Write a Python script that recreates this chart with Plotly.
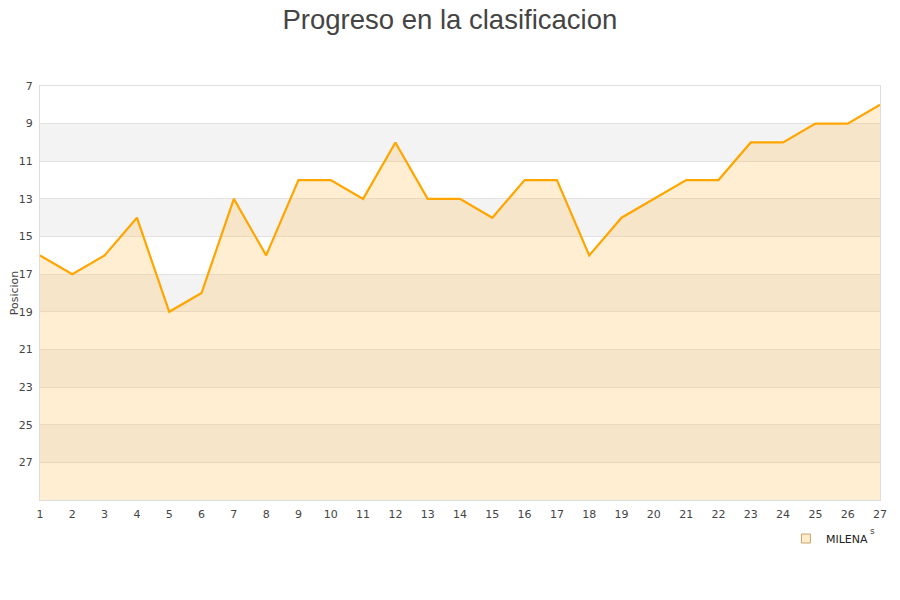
import plotly.graph_objects as go

jornadas = list(range(1, 28))
posicion = [16, 17, 16, 14, 19, 18, 13, 16, 12, 12, 13, 10, 13, 13, 14,
            12, 12, 16, 14, 13, 12, 12, 10, 10, 9, 9, 8]
y_ticks = [7, 9, 11, 13, 15, 17, 19, 21, 23, 25, 27]
y_min, y_max = 7, 29
equipo = "MILENA"

fig = go.Figure()

# alternating grey bands
shapes = []
for lo in range(9, y_max, 4):
    shapes.append(dict(type="rect", xref="paper", yref="y", x0=0, x1=1,
                       y0=lo, y1=lo + 2, fillcolor="#f3f3f3",
                       line_width=0, layer="below"))

# baseline at bottom of axis so fill goes downward
fig.add_trace(go.Scatter(x=jornadas, y=[y_max] * len(jornadas), mode="lines",
                         line=dict(width=0), showlegend=False,
                         hoverinfo="skip"))
fig.add_trace(go.Scatter(x=jornadas, y=posicion, mode="lines", fill="tonexty",
                         fillcolor="rgba(255,191,77,0.26)",
                         line=dict(color="#ffa500", width=2.2),
                         name=equipo, showlegend=False))
# legend swatch
fig.add_trace(go.Scatter(x=[None], y=[None], mode="markers", name=equipo,
                         marker=dict(symbol="square", size=9,
                                     color="#ffedcc",
                                     line=dict(color="#c9a36a", width=1))))

fig.update_layout(
    width=900, height=600,
    paper_bgcolor="white", plot_bgcolor="white",
    margin=dict(l=32, r=28, t=78, b=108, autoexpand=False),
    title=dict(text="Progreso en la clasificacion", x=0.491, y=0.997,
               xanchor="center", yanchor="top", pad=dict(t=0),
               font=dict(family="Liberation Sans, Arial", size=27.5,
                         color="#444444")),
    font=dict(family="DejaVu Sans", size=11, color="#444444"),
    shapes=shapes,
    legend=dict(x=0.888, y=-0.058, xanchor="left", yanchor="top",
                font=dict(size=11, color="#222222"),
                bgcolor="rgba(0,0,0,0)"),
    annotations=[dict(text="s", xref="paper", yref="paper", x=0.997,
                      y=-0.075, showarrow=False, yanchor="middle",
                      font=dict(size=9, color="#444444"))],
)
fig.update_xaxes(range=[1, 27], tickvals=jornadas, showgrid=False,
                 zeroline=False, showline=True, linecolor="#dddddd",
                 mirror=True, ticks="", ticklen=0, ticklabelstandoff=4,
                 automargin=False)
fig.update_yaxes(range=[y_max, y_min], tickvals=y_ticks, showgrid=True,
                 gridcolor="#e2e2e2", gridwidth=1, zeroline=False,
                 showline=True, linecolor="#dddddd", mirror=True,
                 ticklabelstandoff=4, automargin=False,
                 title=dict(text="Posicion", font=dict(size=11), standoff=2))

fig.write_html("out.html")
